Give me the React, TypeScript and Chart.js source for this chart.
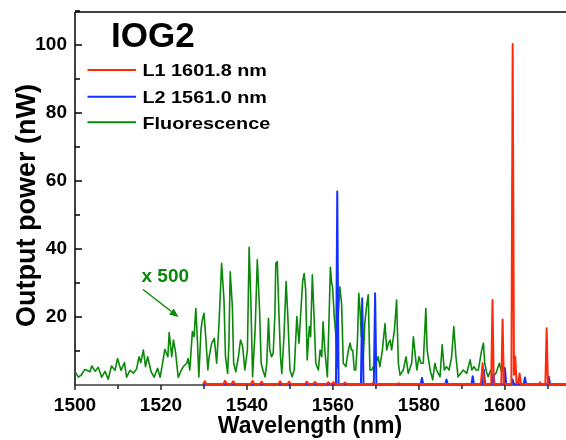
import React, { useEffect, useRef } from 'react';
import { Chart, registerables } from 'chart.js';

Chart.register(...registerables);

const FONT = '"Liberation Sans", Arial, Helvetica, sans-serif';

// ---- Fluorescence (x 500) ----
const fluorWavelength = [
  1500.0, 1500.8, 1501.5, 1502.3, 1503.0, 1503.5, 1503.9, 1504.7, 1505.4, 1506.2,
  1507.0, 1507.7, 1508.5, 1509.3, 1509.9, 1510.7, 1511.5, 1512.0, 1512.8, 1513.6,
  1514.3, 1514.9, 1515.3, 1515.9, 1516.4, 1516.9, 1517.7, 1518.4, 1519.2, 1519.8,
  1520.3, 1520.9, 1521.6, 1521.9, 1522.5, 1522.9, 1523.4, 1524.0, 1524.8, 1525.2,
  1526.0, 1526.3, 1526.7, 1527.3, 1527.7, 1528.1, 1528.5, 1528.8, 1529.3, 1529.6,
  1530.0, 1530.4, 1530.9, 1531.2, 1531.8, 1532.4, 1532.95, 1533.5, 1534.1, 1534.65,
  1535.0, 1535.5, 1535.8, 1536.1, 1536.6, 1536.9, 1537.4, 1538.0, 1538.5, 1539.0,
  1539.5, 1540.1, 1540.5, 1540.9, 1541.3, 1541.9, 1542.4, 1542.9, 1543.3, 1543.8,
  1544.2, 1544.6, 1545.0, 1545.3, 1545.7, 1546.1, 1546.5, 1546.7, 1547.05, 1547.4,
  1547.8, 1548.1, 1548.6, 1549.1, 1549.5, 1550.0, 1550.5, 1551.0, 1551.6, 1552.1,
  1552.5, 1552.95, 1553.3, 1553.65, 1554.0, 1554.5, 1554.8, 1555.2, 1555.6, 1556.0,
  1556.6, 1557.0, 1557.4, 1557.7, 1558.1, 1558.7, 1559.1, 1559.4, 1559.7, 1559.9,
  1560.3, 1560.7, 1561.0, 1561.2, 1561.6, 1562.0, 1562.4, 1563.0, 1563.6, 1564.0,
  1564.3, 1564.6, 1564.95, 1565.3, 1565.7, 1566.0, 1566.3, 1566.6, 1566.8, 1567.0,
  1567.4, 1567.8, 1568.2, 1568.6, 1569.0, 1569.4, 1570.0, 1570.5, 1570.9, 1571.5,
  1572.1, 1572.5, 1572.9, 1573.3, 1573.65, 1574.3, 1574.8, 1575.2, 1575.6, 1576.35,
  1577.0, 1577.5, 1578.3, 1578.7, 1579.1, 1579.5, 1580.0, 1580.5, 1581.0, 1581.6,
  1581.9, 1582.6, 1583.2, 1583.7, 1584.1, 1584.9, 1585.4, 1585.9, 1586.4, 1587.0,
  1587.6, 1588.1, 1588.6, 1589.1, 1589.7, 1590.3, 1591.1, 1591.9, 1592.3, 1592.8,
  1593.3, 1593.8, 1594.6, 1595.0, 1595.3, 1595.7, 1596.1, 1596.7, 1597.1, 1597.9,
  1598.7, 1599.2, 1599.6,
];
const fluorPower = [
  3.9, 2.3, 3.0, 4.6, 4.2, 3.9, 5.6, 4.0, 5.2, 2.3,
  4.0, 1.7, 5.6, 4.3, 7.8, 4.3, 6.6, 2.3, 4.3, 3.5,
  4.6, 8.3, 6.6, 10.3, 5.4, 8.3, 3.9, 2.3, 4.9, 2.3,
  5.9, 10.5, 8.3, 15.4, 8.3, 13.2, 9.5, 2.2, 4.6, 5.4,
  6.4, 7.8, 4.4, 15.7, 14.2, 22.5, 12.3, 2.4, 16.2, 19.1,
  21.1, 14.2, 4.4, 8.3, 12.3, 13.7, 6.4, 18.1, 35.8, 25,
  8.3, 3.4, 12.3, 33.3, 23, 6.4, 3.9, 8.3, 13.2, 11.3,
  4.4, 10.3, 40.5, 25, 2.4, 16.2, 36.8, 23, 6.4, 3.9,
  2.4, 6.4, 19.6, 10.3, 8.3, 9.3, 21.1, 35.8, 36.3, 22.1,
  8.3, 3.4, 14.2, 30.4, 20.1, 4.4, 2.4, 4.4, 20.1, 12.3,
  21.1, 30.4, 32.8, 27.9, 7.4, 17.2, 14.2, 32.4, 20.1, 6.4,
  4.4, 10.3, 8.3, 18.6, 10.3, 2.4, 20.1, 34.6, 29.9, 28.9,
  20.1, 14.2, 5.0, 20.1, 28.9, 24, 6.4, 5.4, 10.3, 12.3,
  10.3, 10.3, 4.4, 4.4, 13.2, 27, 22.1, 14.2, 22.1, 6.4,
  18.1, 23, 26.5, 4.4, 4.4, 5.4, 6.4, 8.3, 5.4, 10.3,
  18.1, 10.3, 12.3, 13.2, 10.3, 16.2, 25, 6.4, 2.9, 4.4,
  8.3, 3.4, 6.4, 14.2, 9.3, 4.4, 8.3, 6.4, 6.4, 22.5,
  10.3, 4.4, 1.5, 6.4, 4.4, 2.4, 11.8, 4.4, 5.4, 4.4,
  8.3, 17.2, 8.3, 2.4, 3.4, 4.4, 3.4, 7.4, 4.4, 5.4,
  4.4, 4.4, 10.3, 12.3, 6.4, 3.9, 2.4, 4.4, 2.4, 3.4,
  6.4, 3.9, 5.4,
];

// ---- L1 1601.8 nm ----
const l1Wavelength = [
  1529.8, 1530.0, 1530.2, 1530.5, 1534.5, 1534.9, 1535.3, 1536.4, 1536.8, 1537.2,
  1540.9, 1541.3, 1541.7, 1543.0, 1543.4, 1543.8, 1547.3, 1547.7, 1548.1, 1549.4,
  1549.8, 1550.2, 1553.5, 1553.9, 1554.3, 1555.4, 1555.8, 1556.2, 1558.5, 1558.9,
  1559.3, 1559.7, 1560.1, 1560.5, 1562.4, 1562.8, 1563.2, 1569.0, 1569.3, 1569.6,
  1575.0, 1575.3, 1575.6, 1594.4, 1594.8, 1595.2, 1596.8, 1597.1, 1597.4, 1599.15,
  1599.45, 1599.75, 1601.5, 1601.8, 1602.1, 1602.4, 1602.7, 1603.1, 1603.4, 1603.7,
  1608.0, 1608.2, 1608.4, 1609.4, 1609.7, 1610.0, 1614.5,
];
const l1Power = [
  0.3, 0.3, 1.1, 0.3, 0.3, 1.2, 0.3, 0.3, 1.1, 0.3,
  0.3, 1.2, 0.3, 0.3, 1.0, 0.3, 0.3, 1.1, 0.3, 0.3,
  1.0, 0.3, 0.3, 1.0, 0.3, 0.3, 0.9, 0.3, 0.3, 0.8,
  0.3, 0.3, 0.8, 0.3, 0.3, 0.7, 0.3, 0.3, 0.6, 0.3,
  0.3, 0.5, 0.3, 0.3, 6.4, 0.3, 0.3, 25, 0.3, 0.3,
  19.3, 0.3, 0.3, 100.3, 3.0, 8.3, 0.5, 0.5, 3.4, 0.3,
  0.3, 0.8, 0.3, 0.3, 16.7, 0.3, 0.3,
];

// ---- L2 1561.0 nm ----
const l2Wavelength = [
  1529.8, 1560.7, 1561.0, 1561.3, 1566.5, 1566.8, 1567.1, 1569.5, 1569.8, 1570.1,
  1580.4, 1580.7, 1581.0, 1586.1, 1586.4, 1586.7, 1592.2, 1592.5, 1592.8, 1594.8,
  1595.1, 1595.4, 1597.0, 1597.3, 1597.6, 1599.7, 1600.0, 1600.3, 1601.5, 1601.8,
  1602.1, 1604.35, 1604.65, 1604.95, 1609.9, 1610.2, 1610.5, 1614.5,
];
const l2Power = [
  0.2, 0.2, 56.9, 0.2, 0.2, 25.5, 0.2, 0.2, 27, 0.2,
  0.2, 2.1, 0.2, 0.2, 1.6, 0.2, 0.2, 2.6, 0.2, 0.2,
  4.5, 0.2, 0.2, 3.4, 0.2, 0.2, 5.0, 0.2, 0.2, 1.6,
  0.2, 0.2, 2.2, 0.2, 0.2, 2.4, 0.2, 0.2,
];

// ---- axes ----
const xMajorTicks = [1500, 1520, 1540, 1560, 1580, 1600];
const xMinorTicks = [1510, 1530, 1550, 1570, 1590, 1610];
const yMajorTicks = [20, 40, 60, 80, 100];
const yMinorTicks = [10, 30, 50, 70, 90, 110];
const X_MIN = 1500;
const X_MAX = 1614.2;
const Y_MIN = 0;
const Y_MAX = 109.7;

const seriesNames = ['L1 1601.8 nm', 'L2 1561.0 nm', 'Fluorescence'];
const seriesColors = ['#ff2a0a', '#1432ff', '#0a880a'];
const chartTitle = 'IOG2';
const scaleNote = 'x 500';
const xTitle = 'Wavelength (nm)';
const yTitle = 'Output power (nW)';

const zip = (xs: number[], ys: number[]) => xs.map((x, i) => ({ x, y: ys[i] }));

function drawText(ctx: CanvasRenderingContext2D, text: string, x: number, y: number, font: string, color: string, align: CanvasTextAlign, sx = 1) {
  ctx.save();
  ctx.font = font;
  ctx.fillStyle = color;
  ctx.textAlign = align;
  ctx.textBaseline = 'alphabetic';
  ctx.translate(x, y);
  ctx.scale(sx, 1);
  ctx.fillText(text, 0, 0);
  ctx.restore();
}

const decorPlugin = {
  id: 'decor',
  beforeDatasetsDraw(chart: any) {
    const { ctx, chartArea: a, scales } = chart;
    const xs = scales.x;
    const ys = scales.y;
    const seg = (x1: number, y1: number, x2: number, y2: number) => {
      ctx.beginPath();
      ctx.moveTo(x1, y1);
      ctx.lineTo(x2, y2);
      ctx.stroke();
    };
    ctx.save();
    ctx.lineWidth = 1.5;
    ctx.strokeStyle = '#000';
    seg(a.left, a.top, a.left, a.bottom + 0.75);
    seg(a.left, a.top, a.right, a.top);
    ctx.strokeStyle = '#3a3a3a';
    seg(a.left, a.bottom, a.right, a.bottom);
    ctx.strokeStyle = '#222';
    xMajorTicks.forEach((v) => { const p = xs.getPixelForValue(v); seg(p, a.bottom, p, a.bottom + 5); });
    xMinorTicks.forEach((v) => { const p = xs.getPixelForValue(v); seg(p, a.bottom, p, a.bottom + 4); });
    ctx.strokeStyle = '#000';
    yMajorTicks.forEach((v) => { const p = ys.getPixelForValue(v); seg(a.left, p, a.left + 7, p); });
    yMinorTicks.forEach((v) => { const p = ys.getPixelForValue(v); seg(a.left, p, a.left + 5, p); });
    ctx.restore();
  },
  afterDraw(chart: any) {
    const { ctx } = chart;
    drawText(ctx, chartTitle, 111, 46.5, `bold 35px ${FONT}`, '#000', 'left');
    const rows = [70, 96.7, 122.3];
    seriesNames.forEach((name, i) => {
      ctx.save();
      ctx.strokeStyle = seriesColors[i];
      ctx.lineWidth = 2;
      ctx.beginPath();
      ctx.moveTo(87.5, rows[i]);
      ctx.lineTo(136, rows[i]);
      ctx.stroke();
      ctx.restore();
      drawText(ctx, name, 142.5, rows[i] + 6.3, `bold 16.5px ${FONT}`, '#000', 'left', 1.2);
    });
    const green = seriesColors[2];
    drawText(ctx, scaleNote, 141.5, 281.7, `bold 19px ${FONT}`, green, 'left', 1.0);
    const x1 = 143, y1 = 289.5, x2 = 178.5, y2 = 317;
    const ang = Math.atan2(y2 - y1, x2 - x1);
    const hl = 9, hw = 3.8;
    const bx = x2 - hl * Math.cos(ang), by = y2 - hl * Math.sin(ang);
    ctx.save();
    ctx.strokeStyle = green;
    ctx.fillStyle = green;
    ctx.lineWidth = 1.5;
    ctx.beginPath();
    ctx.moveTo(x1, y1);
    ctx.lineTo(bx, by);
    ctx.stroke();
    ctx.beginPath();
    ctx.moveTo(x2, y2);
    ctx.lineTo(bx + hw * Math.sin(ang), by - hw * Math.cos(ang));
    ctx.lineTo(bx - hw * Math.sin(ang), by + hw * Math.cos(ang));
    ctx.closePath();
    ctx.fill();
    ctx.restore();
    drawText(ctx, xTitle, 310, 433, `bold 23px ${FONT}`, '#000', 'center');
    ctx.save();
    ctx.translate(34.5, 205.5);
    ctx.rotate(-Math.PI / 2);
    drawText(ctx, yTitle, 0, 0, `bold 27px ${FONT}`, '#000', 'center');
    ctx.restore();
  },
};

export default function App() {
  const canvasRef = useRef<HTMLCanvasElement | null>(null);

  useEffect(() => {
    if (!canvasRef.current) return;
    const tickFont = { family: FONT, size: 19, weight: 'bold' as const };
    const chart = new Chart(canvasRef.current, {
      type: 'line',
      data: {
        datasets: [
          { label: seriesNames[0], data: zip(l1Wavelength, l1Power), borderColor: seriesColors[0], borderWidth: 2, order: 1 },
          { label: seriesNames[1], data: zip(l2Wavelength, l2Power), borderColor: seriesColors[1], borderWidth: 2, order: 2 },
          { label: seriesNames[2], data: zip(fluorWavelength, fluorPower), borderColor: seriesColors[2], borderWidth: 1.6, order: 3 },
        ] as any,
      },
      options: {
        animation: false,
        responsive: false,
        devicePixelRatio: 1,
        layout: { padding: { top: 12, left: 0, right: 0, bottom: 0 } },
        elements: {
          point: { radius: 0, hoverRadius: 0 },
          line: { tension: 0, borderJoinStyle: 'round', fill: false },
        },
        datasets: { line: { clip: { left: 0, right: 0, top: 0, bottom: 4 } as any } },
        plugins: { legend: { display: false }, tooltip: { enabled: false }, title: { display: false } },
        scales: {
          x: {
            type: 'linear',
            min: X_MIN,
            max: X_MAX,
            grid: { display: false, drawTicks: false },
            border: { display: false },
            ticks: { font: tickFont, color: '#000', padding: 9, maxRotation: 0, autoSkip: false, callback: (v: any) => String(v) },
            afterBuildTicks: (s: any) => { s.ticks = xMajorTicks.map((v) => ({ value: v })); },
            afterFit: (s: any) => { s.height = 55; s.paddingLeft = 0; s.paddingRight = 0; s.paddingTop = 0; s.paddingBottom = 0; },
          },
          y: {
            type: 'linear',
            min: Y_MIN,
            max: Y_MAX,
            grid: { display: false, drawTicks: false },
            border: { display: false },
            ticks: { font: tickFont, color: '#000', padding: 8, callback: (v: any) => String(v) },
            afterBuildTicks: (s: any) => { s.ticks = yMajorTicks.map((v) => ({ value: v })); },
            afterFit: (s: any) => { s.width = 75; s.paddingTop = 0; s.paddingBottom = 0; s.paddingLeft = 0; s.paddingRight = 0; },
          },
        },
      },
      plugins: [decorPlugin],
    });
    return () => chart.destroy();
  }, []);

  return (
    <div style={{ position: 'fixed', left: 0, top: 0, width: 566, height: 440, background: '#fff' }}>
      <canvas ref={canvasRef} width={566} height={440} style={{ display: 'block' }} />
    </div>
  );
}
